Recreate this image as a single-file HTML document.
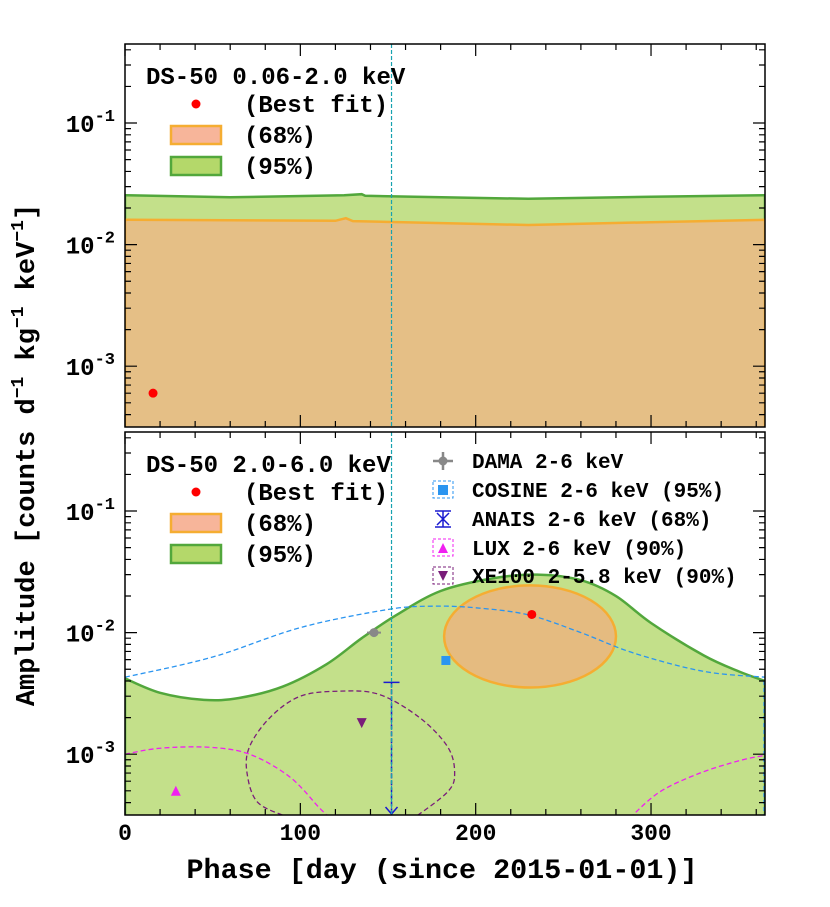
<!DOCTYPE html>
<html><head><meta charset="utf-8"><style>
html,body{margin:0;padding:0;background:#fff;}
svg{display:block;font-family:"Liberation Mono",monospace;font-weight:bold;}
</style></head><body>
<svg id="c" width="830" height="907" viewBox="0 0 830 907" xmlns="http://www.w3.org/2000/svg"></svg>
<script>
const topBand95=[[0,0.0255],[60,0.0245],[125,0.0255],[135,0.026],[137,0.0252],[230,0.0238],[300,0.0248],[365,0.0255]];
const topBand68=[[0,0.0160],[120,0.0157],[126,0.0165],[130,0.0156],[230,0.0145],[300,0.0153],[365,0.0160]];
const topBest=[16,0.0006];
const botBand95=[[0,0.0042],[20,0.0032],[45,0.0028],[65,0.0029],[90,0.0036],[115,0.0055],[135,0.009],[155,0.014],[180,0.022],[210,0.028],[235,0.030],[260,0.027],[280,0.020],[300,0.012],[330,0.0065],[350,0.0048],[365,0.0040]];
const ellipse68=[231,0.0093,49,0.42];
const botBest=[232,0.0141];
const cosineCurve=[[0,0.0043],[50,0.0063],[100,0.011],[150,0.0155],[175,0.0165],[200,0.016],[230,0.014],[260,0.010],[290,0.0068],[330,0.0048],[365,0.0043]];
const xe100Contour=[[94,0.0003],[75.8,0.0004],[69.6,0.0007],[71,0.00115],[82.7,0.002],[100,0.003],[122.6,0.0033],[145,0.0031],[168,0.002],[184,0.00115],[188,0.0007],[184,0.00049],[165,0.0003]];
const luxLeft=[[0,0.001],[20,0.00112],[48,0.00114],[71,0.001],[94,0.00065],[111,0.00036],[117,0.0003]];
const luxRight=[[288,0.0003],[305,0.00049],[328,0.0007],[351,0.00089],[365,0.00098]];
const dama=[142,0.010];
const cosinePt=[183,0.0059];
const anais=[152,0.0039];
const xe100Pt=[135,0.0018];
const luxPt=[29,0.0005];
const xTicks=[0,100,200,300];
const yTicks=[-3,-2,-1];

const NS="http://www.w3.org/2000/svg",svg=document.getElementById('c');
const X0=125,X1=765,LMIN=-3.5,LMAX=-0.35;
const panels=[{t:44,b:427},{t:432,b:815}];
const xs=d=>X0+(d/365)*(X1-X0);
const ysF=p=>v=>p.b-(Math.log10(v)-LMIN)/(LMAX-LMIN)*(p.b-p.t);
function el(tag,a,parent){const e=document.createElementNS(NS,tag);for(const k in a)e.setAttribute(k,a[k]);(parent||svg).appendChild(e);return e;}
function pts(arr,y){return arr.map(p=>xs(p[0]).toFixed(1)+','+y(p[1]).toFixed(1)).join(' ');}
function smooth(arr,y){let d='';const P=arr.map(p=>[xs(p[0]),y(p[1])]);d='M'+P[0];for(let i=1;i<P.length;i++){const p0=P[i-2]||P[i-1],p1=P[i-1],p2=P[i],p3=P[i+1]||p2;d+=' C'+(p1[0]+(p2[0]-p0[0])/6)+','+(p1[1]+(p2[1]-p0[1])/6)+' '+(p2[0]-(p3[0]-p1[0])/6)+','+(p2[1]-(p3[1]-p1[1])/6)+' '+p2;}return d;}

panels.forEach((p,i)=>{const cp=el('clipPath',{id:'clip'+i});el('rect',{x:X0,y:p.t,width:X1-X0,height:p.b-p.t},cp);});

// top panel
const y0=ysF(panels[0]),g0=el('g',{'clip-path':'url(#clip0)'});

let e=el('polygon',{points:pts(topBand95,y0)+` ${X1},${panels[0].b} ${X0},${panels[0].b}`,fill:'#c3e08a',stroke:'#52a73c','stroke-width':2.5},g0);

e=el('polygon',{points:pts(topBand68,y0)+` ${X1},${panels[0].b+5} ${X0},${panels[0].b+5}`,fill:'#e5bf86',stroke:'#f5ad32','stroke-width':2.5},g0);

e=el('circle',{cx:xs(topBest[0]),cy:y0(topBest[1]),r:4.5,fill:'#f00'},g0);


// bottom panel
const y1=ysF(panels[1]),g1=el('g',{'clip-path':'url(#clip1)'});

e=el('path',{d:smooth(botBand95,y1)+` L${X1},${panels[1].b+5} L${X0},${panels[1].b+5}Z`,fill:'#c3e08a',stroke:'#52a73c','stroke-width':2.5},g1);

const ecx=xs(ellipse68[0]),ecy=y1(ellipse68[1]),erx=xs(ellipse68[2])-X0,ery=ellipse68[3]/(LMAX-LMIN)*(panels[1].b-panels[1].t);
e=el('ellipse',{cx:ecx,cy:ecy,rx:erx,ry:ery,fill:'#e5bb80',stroke:'#f5ad32','stroke-width':2.5},g1);

e=el('path',{d:smooth(cosineCurve,y1),fill:'none',stroke:'#2b95f0','stroke-width':1.3,'stroke-dasharray':'5,3'},g1);

e=el('path',{d:smooth(xe100Contour,y1),fill:'none',stroke:'#7a1d7a','stroke-width':1.3,'stroke-dasharray':'5,3'},g1);

e=el('path',{d:smooth(luxLeft,y1),fill:'none',stroke:'#f020f0','stroke-width':1.3,'stroke-dasharray':'5,3'},g1);

e=el('path',{d:smooth(luxRight,y1),fill:'none',stroke:'#f020f0','stroke-width':1.3,'stroke-dasharray':'5,3'},g1);

e=el('line',{x1:X1-1,x2:X1-1,y1:y1(0.004),y2:panels[1].b,stroke:'#2b95f0','stroke-width':1.3,'stroke-dasharray':'4,3'},g1);

e=el('circle',{cx:xs(botBest[0]),cy:y1(botBest[1]),r:4.5,fill:'#f00'},g1);

const dx=xs(dama[0]),dy=y1(dama[1]);
el('line',{x1:dx-7,x2:dx+7,y1:dy,y2:dy,stroke:'#888','stroke-width':2},g1);
e=el('circle',{cx:dx,cy:dy,r:4.5,fill:'#888'},g1);

e=el('rect',{x:xs(cosinePt[0])-4.5,y:y1(cosinePt[1])-4.5,width:9,height:9,fill:'#2b95f0'},g1);

const ax=xs(anais[0]),ay=y1(anais[1]);
e=el('path',{d:`M${ax-8},${ay}H${ax+8}`,fill:'none',stroke:'#1a1ad0','stroke-width':1.5},g1);

e=el('path',{d:`M${ax},${ay}V${panels[1].b-1}`,fill:'none',stroke:'#1a1ad0','stroke-width':1.5,'stroke-dasharray':'5,2'},g1);

el('path',{d:`M${ax-6},${panels[1].b-8}L${ax},${panels[1].b-1}L${ax+6},${panels[1].b-8}`,fill:'none',stroke:'#1a1ad0','stroke-width':1.5},g1);
const tx=xs(xe100Pt[0]),ty=y1(xe100Pt[1]);
e=el('polygon',{points:`${tx-5},${ty-5} ${tx+5},${ty-5} ${tx},${ty+5}`,fill:'#7a1d7a'},g1);

const lx=xs(luxPt[0]),ly=y1(luxPt[1]);
e=el('polygon',{points:`${lx-5},${ly+5} ${lx+5},${ly+5} ${lx},${ly-5}`,fill:'#f020f0'},g1);


panels.forEach((p,i)=>{const v=el('line',{x1:xs(152),x2:xs(152),y1:p.t,y2:p.b,stroke:'#17a2b0','stroke-width':1.2,'stroke-dasharray':'4,2'});
});

panels.forEach((p,i)=>{const y=ysF(p);
 const f=el('rect',{x:X0,y:p.t,width:X1-X0,height:p.b-p.t,fill:'none',stroke:'#000','stroke-width':1.5});
 
 let d='';
 for(let t=0;t<=360;t+=20){const x=xs(t),L=t%100===0?12:6;d+=`M${x},${p.b}v${-L}M${x},${p.t}v${L}`;}
 for(let dec=-4;dec<=0;dec++)for(let m=1;m<10;m++){const v=m*Math.pow(10,dec),yy=y(v);if(yy<p.t||yy>p.b)continue;const L=m===1?12:6;d+=`M${X0},${yy}h${L}M${X1},${yy}h${-L}`;}
 el('path',{d,stroke:'#000','stroke-width':1.2,fill:'none'});
 yTicks.forEach(k=>{const t=el('text',{x:X0-10,y:y(Math.pow(10,k))+9,'text-anchor':'end','font-size':24});
  t.innerHTML=`10<tspan dy="-11" font-size="17">${k}</tspan>`;
  });
});
xTicks.forEach(t=>{const tt=el('text',{x:xs(t),y:840,'text-anchor':'middle','font-size':23});tt.textContent=t;
 });

let at=el('text',{x:442,y:878,'text-anchor':'middle','font-size':28,textLength:511,lengthAdjust:'spacingAndGlyphs'});at.textContent='Phase [day (since 2015-01-01)]';

at=el('text',{transform:'translate(34,455) rotate(-90)','text-anchor':'middle','font-size':27});
at.innerHTML='Amplitude [counts d<tspan dy="-11" font-size="18">−1</tspan><tspan dy="11"> kg</tspan><tspan dy="-11" font-size="18">−1</tspan><tspan dy="11"> keV</tspan><tspan dy="-11" font-size="18">−1</tspan><tspan dy="11">]</tspan>';


function txt(x,y,s,fs,name){const t=el('text',{x,y,'font-size':fs});t.textContent=s;return t;}
function dsLegend(y,title){
 txt(146,y+7,title,24,'legend-title');
 el('circle',{cx:196,cy:y+27,r:4.5,fill:'#f00'});txt(244,y+35,'(Best fit)',24,'legend-entry');
 el('rect',{x:171,y:y+49,width:50,height:18,fill:'#f7b59a',stroke:'#f5ad32','stroke-width':2.5});txt(244,y+66,'(68%)',24,'legend-entry');
 el('rect',{x:171,y:y+80,width:50,height:18,fill:'#b4d86a',stroke:'#52a73c','stroke-width':2.5});txt(244,y+97,'(95%)',24,'legend-entry');
}
dsLegend(77,'DS-50 0.06-2.0 keV');
dsLegend(465,'DS-50 2.0-6.0 keV');
const lg=[['DAMA 2-6 keV',461],['COSINE 2-6 keV (95%)',490],['ANAIS 2-6 keV (68%)',519],['LUX 2-6 keV (90%)',548],['XE100 2-5.8 keV (90%)',576]];
lg.forEach(l=>txt(472,l[1]+7,l[0],21,'legend-entry'));
el('path',{d:'M433,461h20M443,452v18',stroke:'#888','stroke-width':2.5});el('circle',{cx:443,cy:461,r:4.5,fill:'#888'});
el('rect',{x:433,y:481,width:20,height:17,fill:'none',stroke:'#2b95f0','stroke-dasharray':'3,2'});el('rect',{x:438,y:485,width:10,height:10,fill:'#2b95f0'});
el('path',{d:'M435,511h16M443,511v16M435,527h16M437,513l12,12M449,513l-12,12',stroke:'#1a1ad0','stroke-width':1.5,fill:'none'});
el('rect',{x:433,y:539,width:20,height:17,fill:'none',stroke:'#f020f0','stroke-dasharray':'3,2'});el('polygon',{points:'438,553 448,553 443,543',fill:'#f020f0'});
el('rect',{x:433,y:567,width:20,height:17,fill:'none',stroke:'#7a1d7a','stroke-dasharray':'3,2'});el('polygon',{points:'438,571 448,571 443,581',fill:'#7a1d7a'});
</script>
</body></html>
